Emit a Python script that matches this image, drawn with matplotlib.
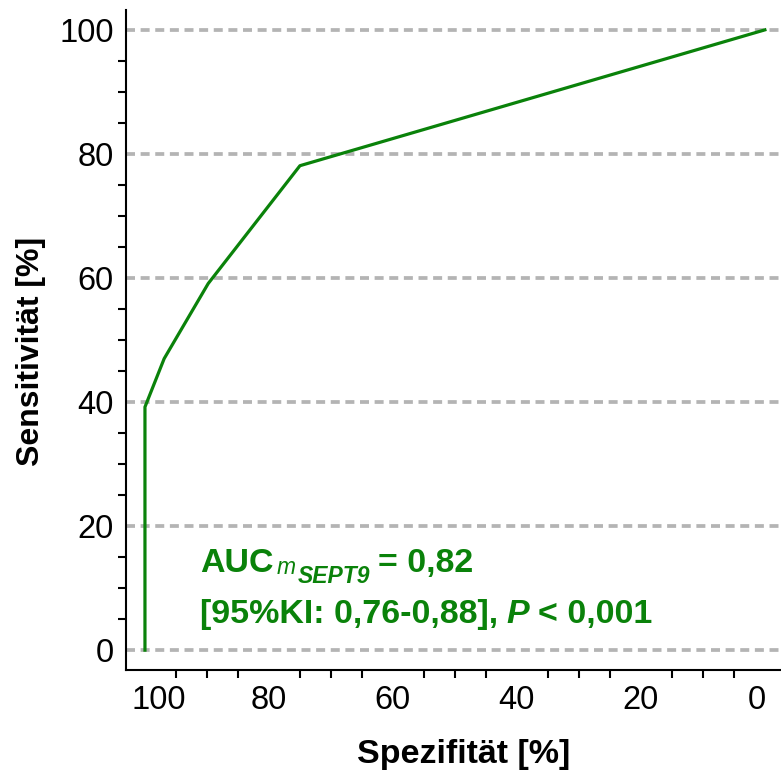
import matplotlib.pyplot as plt
from matplotlib.ticker import MultipleLocator
from matplotlib.transforms import ScaledTranslation

plt.rcParams['font.family'] = ['Liberation Sans', 'DejaVu Sans']

# ROC-Kurve: Spezifität / Sensitivität in %
spezifitaet = [100, 100, 96.9, 89.8, 75.0, 0]
sensitivitaet = [0, 39.2, 47.0, 59.1, 78.1, 100]

x_ticks = [100, 80, 60, 40, 20, 0]
y_ticks = [0, 20, 40, 60, 80, 100]

auc_teile = ['AUC', 'm', 'SEPT9', '= 0,82']
ki_teile = ['[95%KI: 0,76-0,88],', 'P', '< 0,001']

gruen = '#0a820a'

fig = plt.figure(figsize=(7.81, 7.76), dpi=100)
ax = fig.add_axes([0.161, 0.1366, 0.839, 0.8505])

# gestrichelte Hilfslinien
ax.yaxis.grid(True, which='major', color='#b4b4b4', linestyle=(0, (2.4, 1.5)), linewidth=2.7)

ax.plot(spezifitaet, sensitivitaet, color=gruen, lw=2.3)

ax.set_xlim(103.1, -2.6)
ax.set_ylim(-3.2, 103.2)
ax.set_xticks(x_ticks)
ax.set_yticks(y_ticks)
ax.xaxis.set_minor_locator(MultipleLocator(5))
ax.yaxis.set_minor_locator(MultipleLocator(5))

ax.tick_params(which='major', length=0, labelsize=23.5)
ax.tick_params(axis='x', which='major', pad=11)
ax.tick_params(axis='y', which='major', pad=8.5)
ax.tick_params(which='minor', length=5.5, width=1.5)

for s in ['top', 'right']:
    ax.spines[s].set_visible(False)
for s in ['left', 'bottom']:
    ax.spines[s].set_linewidth(1.5)

# Randbeschriftungen etwas nach innen
labels = ax.get_xticklabels()
labels[0].set_transform(labels[0].get_transform() + ScaledTranslation(10 / 72, 0, fig.dpi_scale_trans))
labels[-1].set_transform(labels[-1].get_transform() + ScaledTranslation(-5.5 / 72, 0, fig.dpi_scale_trans))

ax.set_xlabel('Spezifität [%]', fontsize=24.5, fontweight='bold')
ax.set_ylabel('Sensitivität [%]', fontsize=23, fontweight='bold')
ax.xaxis.set_label_coords(0.516, -0.104)
ax.yaxis.set_label_coords(-0.122, 0.483)

# AUC-Text
gr = 24.5
t_auc = ax.text(91.1, 12.6, auc_teile[0], fontsize=gr, fontweight='bold', color=gruen, va='baseline')
t_m = ax.annotate(auc_teile[1], xy=(1, 0), xycoords=t_auc, xytext=(2, 0), textcoords='offset points',
                  fontsize=16.5, style='italic', color=gruen, va='bottom')
t_sept = ax.annotate(auc_teile[2], xy=(1, 0), xycoords=t_m, xytext=(1.5, -6.5), textcoords='offset points',
                     fontsize=16.5, style='italic', fontweight='bold', color=gruen, va='bottom')
ax.annotate(auc_teile[3], xy=(1, 0), xycoords=(t_sept, t_auc), xytext=(6, 0), textcoords='offset points',
            fontsize=gr, fontweight='bold', color=gruen, va='bottom')

t_ki = ax.text(91.1, 4.35, ki_teile[0], fontsize=gr, fontweight='bold', color=gruen, va='baseline')
t_p = ax.annotate(ki_teile[1], xy=(1, 0), xycoords=t_ki, xytext=(6, 0), textcoords='offset points',
                  fontsize=gr, style='italic', fontweight='bold', color=gruen, va='bottom')
ax.annotate(ki_teile[2], xy=(1, 0), xycoords=t_p, xytext=(6, 0), textcoords='offset points',
            fontsize=gr, fontweight='bold', color=gruen, va='bottom')

fig.savefig('out.png', dpi=100)
